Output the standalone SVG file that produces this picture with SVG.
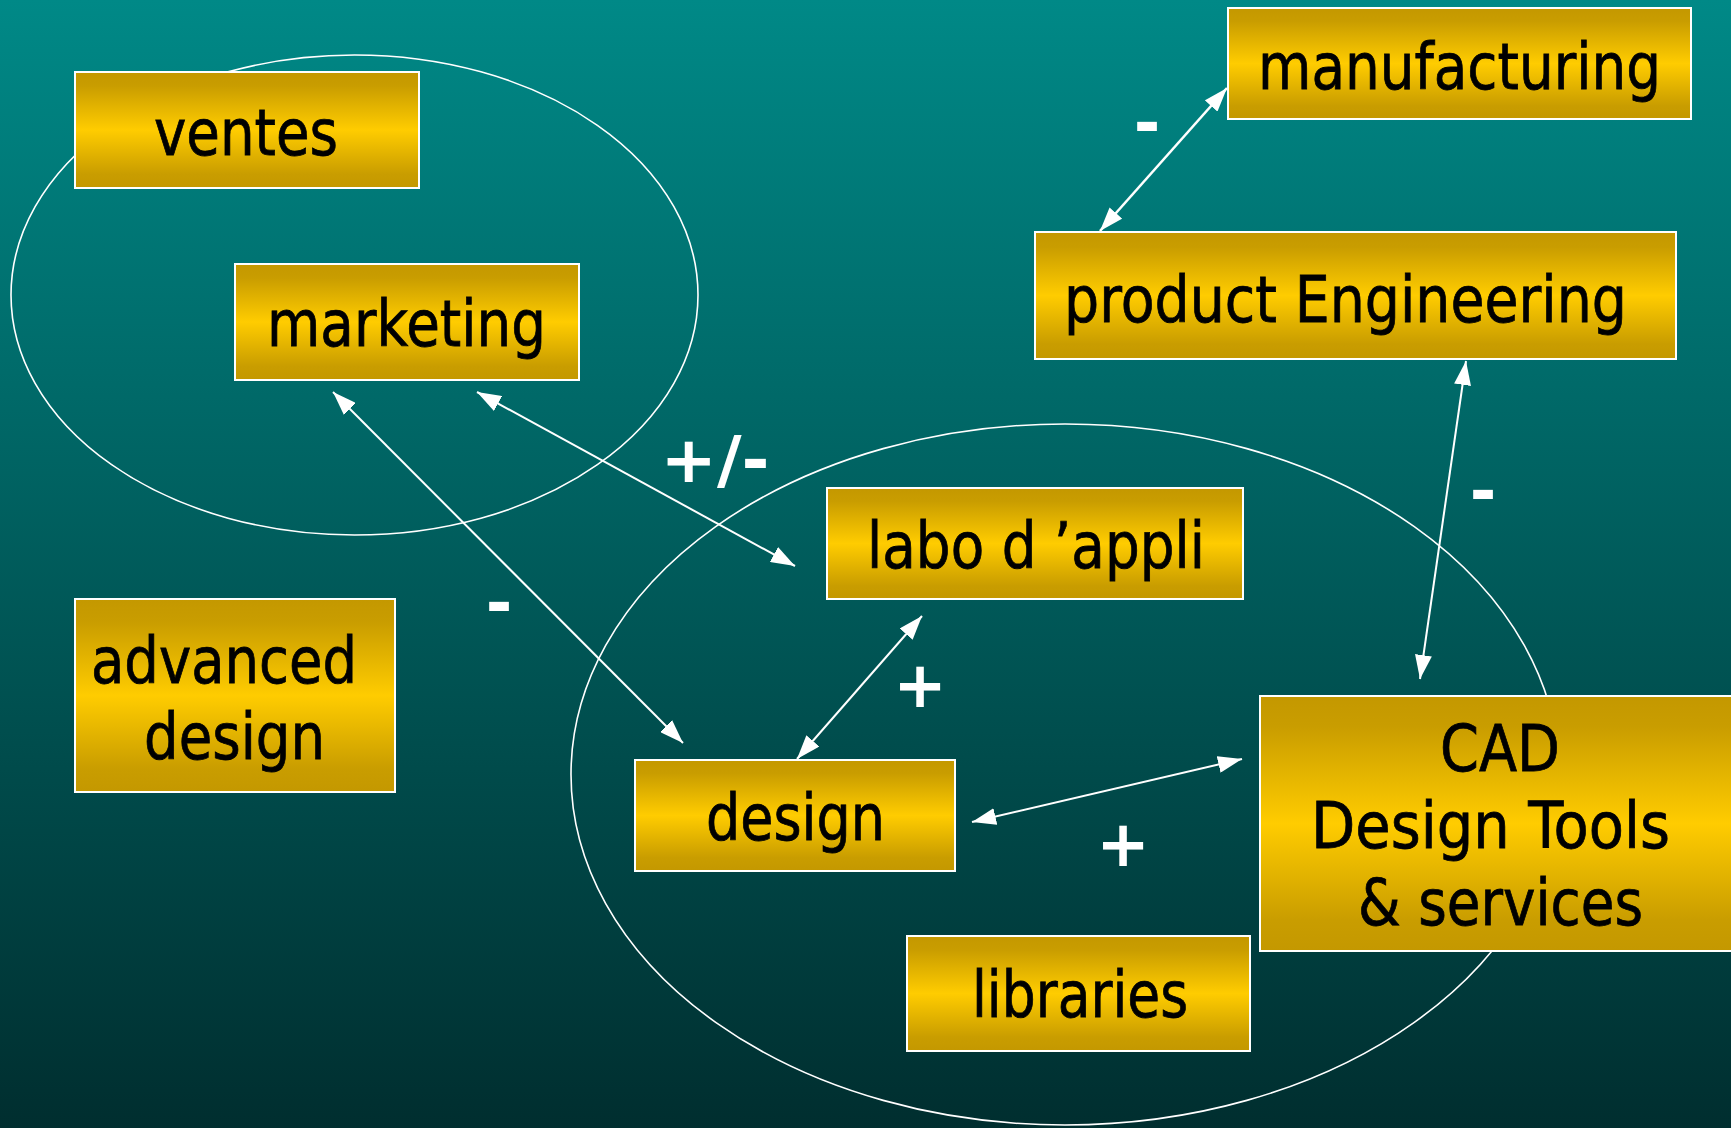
<svg xmlns="http://www.w3.org/2000/svg" width="1731" height="1128" viewBox="0 0 1731 1128">
  <defs>
    <linearGradient id="bg" x1="0" y1="0" x2="0" y2="1">
      <stop offset="0" stop-color="#008987"/>
      <stop offset="1" stop-color="#002E2F"/>
    </linearGradient>
    <linearGradient id="gold" x1="0" y1="0" x2="0" y2="1">
      <stop offset="0" stop-color="#C49800"/>
      <stop offset="0.12" stop-color="#C99D00"/>
      <stop offset="0.5" stop-color="#FFCC00"/>
      <stop offset="0.88" stop-color="#C99D00"/>
      <stop offset="1" stop-color="#C49800"/>
    </linearGradient>
    <marker id="head" viewBox="0 0 24 17" refX="24" refY="8.5" markerWidth="24" markerHeight="17" markerUnits="userSpaceOnUse" orient="auto-start-reverse">
      <path d="M0,0 L24,8.5 L0,17 z" fill="#FFFFFF"/>
    </marker>
    <style>
      .box { fill: url(#gold); stroke: #FFFFFF; stroke-width: 2; }
      .lbl { font-family: "DejaVu Sans", Verdana, sans-serif; font-size: 64px; fill: #000000; stroke: #000000; stroke-width: 0.8; }
      .sign { font-family: "DejaVu Sans", Verdana, sans-serif; font-weight: bold; font-size: 64px; fill: #FFFFFF; text-anchor: middle; }
      .ring { fill: none; stroke: #FFFFFF; stroke-width: 1.6; }
      .link { fill: none; stroke: #FFFFFF; stroke-width: 2; marker-start: url(#head); marker-end: url(#head); }
    </style>
  </defs>

  <rect x="0" y="0" width="1731" height="1128" fill="url(#bg)"/>

  <!-- grouping ellipses -->
  <g id="groups">
    <ellipse class="ring" cx="354.5" cy="295" rx="343.5" ry="240"/>
    <ellipse class="ring" cx="1065" cy="774.5" rx="494" ry="350.5"/>
  </g>

  <!-- connectors -->
  <g id="connectors">
    <line class="link" x1="1100" y1="231" x2="1227" y2="88" style="stroke-width:2.6"/>
    <line class="link" x1="333" y1="392" x2="683" y2="743"/>
    <line class="link" x1="477" y1="392" x2="795" y2="566"/>
    <line class="link" x1="797" y1="759" x2="922" y2="616"/>
    <line class="link" x1="972" y1="822" x2="1242" y2="759"/>
    <line class="link" x1="1466" y1="361" x2="1420" y2="679"/>
  </g>

  <!-- relation signs -->
  <g id="signs">
    <text class="sign" x="715" y="482" textLength="109" lengthAdjust="spacingAndGlyphs">+/-</text>
    <text class="sign" x="1147" y="145">-</text>
    <text class="sign" x="499" y="625">-</text>
    <text class="sign" x="1483" y="513">-</text>
    <text class="sign" x="920" y="707">+</text>
    <text class="sign" x="1123" y="866">+</text>
  </g>

  <g id="ventes">
    <rect class="box" x="75" y="72" width="344" height="116"/>
    <text class="lbl" x="154" y="155" textLength="184" lengthAdjust="spacingAndGlyphs">ventes</text>
  </g>

  <g id="marketing">
    <rect class="box" x="235" y="264" width="344" height="116"/>
    <text class="lbl" x="267" y="346" textLength="279" lengthAdjust="spacingAndGlyphs">marketing</text>
  </g>

  <g id="manufacturing">
    <rect class="box" x="1228" y="8" width="463" height="111"/>
    <text class="lbl" x="1258" y="89" textLength="403" lengthAdjust="spacingAndGlyphs">manufacturing</text>
  </g>

  <g id="product-engineering">
    <rect class="box" x="1035" y="232" width="641" height="127"/>
    <text class="lbl" x="1064" y="322" textLength="563" lengthAdjust="spacingAndGlyphs">product Engineering</text>
  </g>

  <g id="labo">
    <rect class="box" x="827" y="488" width="416" height="111"/>
    <text class="lbl" x="867" y="568" textLength="338" lengthAdjust="spacingAndGlyphs">labo d ’appli</text>
  </g>

  <g id="advanced-design">
    <rect class="box" x="75" y="599" width="320" height="193"/>
    <text class="lbl" x="91" y="683" textLength="266" lengthAdjust="spacingAndGlyphs">advanced</text>
    <text class="lbl" x="144" y="759" textLength="181" lengthAdjust="spacingAndGlyphs">design</text>
  </g>

  <g id="design">
    <rect class="box" x="635" y="760" width="320" height="111"/>
    <text class="lbl" x="706" y="840" textLength="179" lengthAdjust="spacingAndGlyphs">design</text>
  </g>

  <g id="cad">
    <rect class="box" x="1260" y="696" width="480" height="255"/>
    <text class="lbl" x="1440" y="771" textLength="120" lengthAdjust="spacingAndGlyphs">CAD</text>
    <text class="lbl" x="1311" y="848" textLength="359" lengthAdjust="spacingAndGlyphs">Design Tools</text>
    <text class="lbl" x="1358" y="925" textLength="285" lengthAdjust="spacingAndGlyphs">&amp; services</text>
  </g>

  <g id="libraries">
    <rect class="box" x="907" y="936" width="343" height="115"/>
    <text class="lbl" x="972" y="1017" textLength="216" lengthAdjust="spacingAndGlyphs">libraries</text>
  </g>
</svg>
